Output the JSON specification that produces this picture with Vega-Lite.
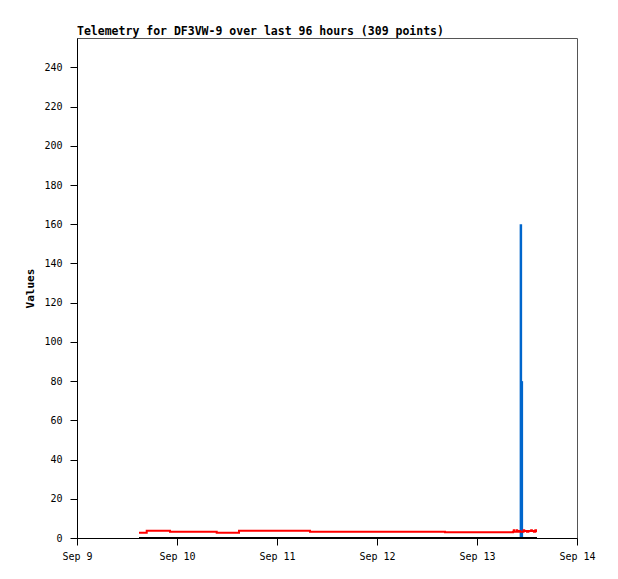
{
  "$schema": "https://vega.github.io/schema/vega-lite/v6.json",
  "width": 500,
  "height": 500,
  "autosize": {"type": "none"},
  "padding": {"left": 77, "top": 38, "right": 41, "bottom": 41},
  "background": "white",
  "title": {
    "text": "Telemetry for DF3VW-9 over last 96 hours (309 points)",
    "anchor": "start",
    "frame": "group",
    "font": "DejaVu Sans Mono",
    "fontSize": 11.5,
    "fontWeight": "bold",
    "color": "black",
    "offset": 1
  },
  "config": {
    "view": {"stroke": "#555555", "strokeWidth": 1},
    "axis": {
      "domainColor": "black",
      "tickColor": "black",
      "labelColor": "black",
      "labelFont": "DejaVu Sans Mono",
      "labelFontSize": 10,
      "titleFont": "DejaVu Sans Mono",
      "titleFontSize": 11,
      "titleFontWeight": "bold",
      "titleColor": "black",
      "grid": false,
      "tickSize": 7
    }
  },
  "datasets": {
    "lines": [
      {"t": "2024-09-09T14:53:00Z", "v": 0, "s": "Value 1"},
      {"t": "2024-09-13T14:24:00Z", "v": 0, "s": "Value 1"},
      {"t": "2024-09-09T14:53:00Z", "v": 2.7, "s": "Value 2"},
      {"t": "2024-09-09T16:44:00Z", "v": 3.7, "s": "Value 2"},
      {"t": "2024-09-09T22:19:00Z", "v": 3.2, "s": "Value 2"},
      {"t": "2024-09-10T09:32:00Z", "v": 2.7, "s": "Value 2"},
      {"t": "2024-09-10T14:53:00Z", "v": 3.7, "s": "Value 2"},
      {"t": "2024-09-11T07:55:00Z", "v": 3.2, "s": "Value 2"},
      {"t": "2024-09-12T16:19:00Z", "v": 2.9, "s": "Value 2"},
      {"t": "2024-09-13T08:40:00Z", "v": 3.2, "s": "Value 2"},
      {"t": "2024-09-13T08:50:00Z", "v": 4.0, "s": "Value 2"},
      {"t": "2024-09-13T08:55:00Z", "v": 3.2, "s": "Value 2"},
      {"t": "2024-09-13T09:30:00Z", "v": 4.0, "s": "Value 2"},
      {"t": "2024-09-13T09:38:00Z", "v": 3.2, "s": "Value 2"},
      {"t": "2024-09-13T10:05:00Z", "v": 3.6, "s": "Value 2"},
      {"t": "2024-09-13T10:20:00Z", "v": 3.2, "s": "Value 2"},
      {"t": "2024-09-13T11:10:00Z", "v": 4.0, "s": "Value 2"},
      {"t": "2024-09-13T11:20:00Z", "v": 3.6, "s": "Value 2"},
      {"t": "2024-09-13T12:00:00Z", "v": 3.2, "s": "Value 2"},
      {"t": "2024-09-13T12:20:00Z", "v": 3.6, "s": "Value 2"},
      {"t": "2024-09-13T13:00:00Z", "v": 4.0, "s": "Value 2"},
      {"t": "2024-09-13T13:10:00Z", "v": 3.6, "s": "Value 2"},
      {"t": "2024-09-13T13:40:00Z", "v": 3.2, "s": "Value 2"},
      {"t": "2024-09-13T14:00:00Z", "v": 4.0, "s": "Value 2"},
      {"t": "2024-09-13T14:10:00Z", "v": 3.6, "s": "Value 2"},
      {"t": "2024-09-13T14:24:00Z", "v": 3.6, "s": "Value 2"}
    ],
    "spikes": [
      {"t": "2024-09-13T10:32:00Z", "v": 160, "s": "Value 3"},
      {"t": "2024-09-13T10:46:00Z", "v": 80, "s": "Value 3"}
    ]
  },
  "layer": [
    {
      "data": {"name": "spikes"},
      "mark": {"type": "rule", "color": "#0066cc", "strokeWidth": 2.5},
      "encoding": {
        "x": {
          "field": "t", "type": "temporal",
          "scale": {"type": "utc", "domain": [
            {"year": 2024, "month": 9, "date": 9, "utc": true},
            {"year": 2024, "month": 9, "date": 14, "utc": true}
          ]},
          "axis": {"title": null, "format": "%b %-d", "tickCount": 5, "labelPadding": 6, "labelFlush": false}
        },
        "y": {
          "field": "v", "type": "quantitative",
          "scale": {"domain": [0, 255], "nice": false},
          "axis": {"title": "Values", "values": [0,20,40,60,80,100,120,140,160,180,200,220,240], "labelPadding": 8, "titlePadding": 8}
        },
        "y2": {"datum": 0}
      }
    },
    {
      "data": {"name": "lines"},
      "mark": {"type": "line", "interpolate": "step-after", "strokeWidth": 2},
      "encoding": {
        "x": {"field": "t", "type": "temporal"},
        "y": {"field": "v", "type": "quantitative"},
        "color": {
          "field": "s", "type": "nominal",
          "scale": {"domain": ["Value 1", "Value 2"], "range": ["#000000", "#ff0000"]},
          "legend": null
        }
      }
    }
  ]
}
